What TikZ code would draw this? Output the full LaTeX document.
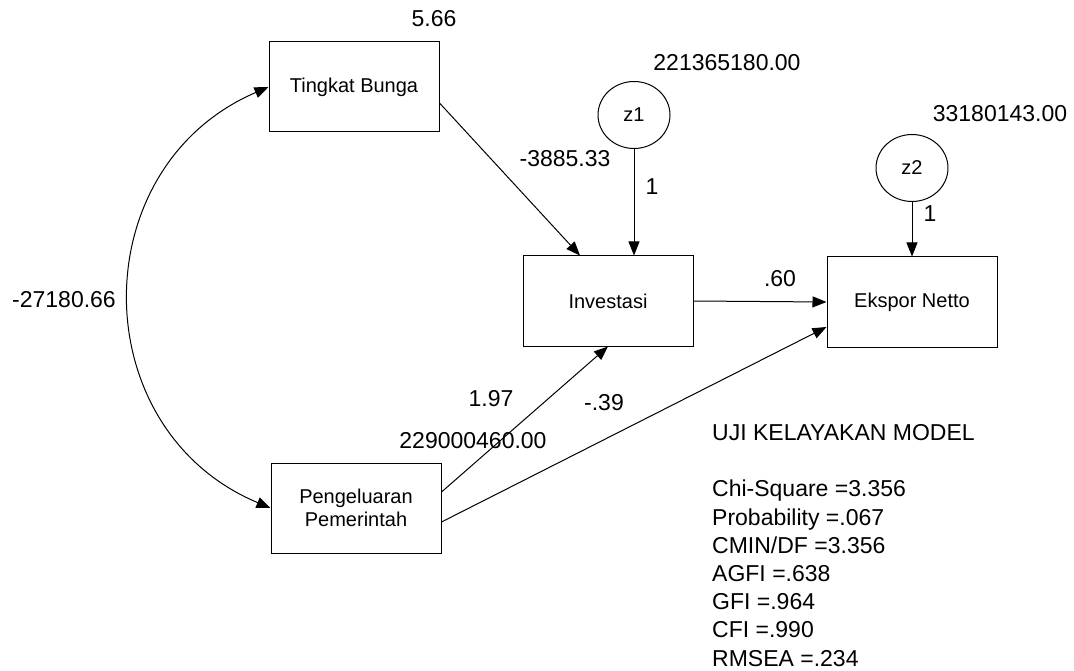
\documentclass[tikz,border=0pt]{standalone}
\usepackage{fontspec}
\setmainfont{Liberation Sans}
\usetikzlibrary{arrows.meta,shapes.geometric,calc}

\begin{document}
\begin{tikzpicture}[x=1pt,y=-1pt,
  var/.style={draw,line width=1pt,minimum width=170pt,minimum height=90pt,
    inner sep=0pt,align=center,font=\fontsize{20}{23}\selectfont},
  err/.style={draw,ellipse,line width=1pt,minimum width=72pt,minimum height=67pt,
    inner sep=0pt,font=\fontsize{20}{23}\selectfont},
  num/.style={anchor=base,inner sep=0pt,font=\fontsize{23}{28}\selectfont},
  note/.style={anchor=base west,inner sep=0pt,align=left,font=\fontsize{23}{28.2}\selectfont},
  effect/.style={line width=1pt,-{Triangle[length=14pt,width=11pt]}},
  covarc/.style={line width=1pt,{Triangle[length=14pt,width=11pt]}-{Triangle[length=14pt,width=11pt]}}]
  \useasboundingbox (0,0) rectangle (1074,671);

  \node[var] (tb) at (354,87) {Tingkat Bunga};
  \node[var] (inv) at (608,301) {Investasi};
  \node[var] (en) at (912,302) {Ekspor Netto};
  \node[var] (pp) at (356,508) {Pengeluaran\\Pemerintah};
  \node[err] (z1) at (634,115) {z1};
  \node[err] (z2) at (912,168) {z2};

  \draw[effect] ($(tb.east)+(0,16)$) -- ($(inv.north)+(-28,0)$);
  \draw[effect] (z1.south) -- (z1.south |- inv.north);
  \draw[effect] (z2.south) -- (en.north);
  \draw[effect] (inv.east) -- (en.west);
  \draw[effect] ($(pp.east)+(0,-16)$) -- (inv.south);
  \draw[effect] ($(pp.east)+(0,14)$) -- ($(en.west)+(0,25)$);
  \draw[covarc] (tb.west) to[bend right=67,looseness=1.23] (pp.west);

  \node[num] (v_tb) at (434,27) {5.66};
  \node[num] (v_z1) at (727,71) {221365180.00};
  \node[num] (v_z2) at (1000,122) {33180143.00};
  \node[num] (v_pp) at (473,448) {229000460.00};
  \node[num] (c_tbpp) at (64,307) {-27180.66};
  \node[num] (b_tbinv) at (565,167) {-3885.33};
  \node[num] (b_z1) at (652,195) {1};
  \node[num] (b_z2) at (930,222) {1};
  \node[num] (b_inven) at (780,287) {.60};
  \node[num] (b_ppinv) at (491,406) {1.97};
  \node[num] (b_ppen) at (604,410) {-.39};

  \node[note] (gof) at (712,666) {UJI KELAYAKAN MODEL\\[28.5pt]
    Chi-Square =3.356\\
    Probability =.067\\
    CMIN/DF =3.356\\
    AGFI =.638\\
    GFI =.964\\
    CFI =.990\\
    RMSEA =.234};
\end{tikzpicture}
\end{document}
